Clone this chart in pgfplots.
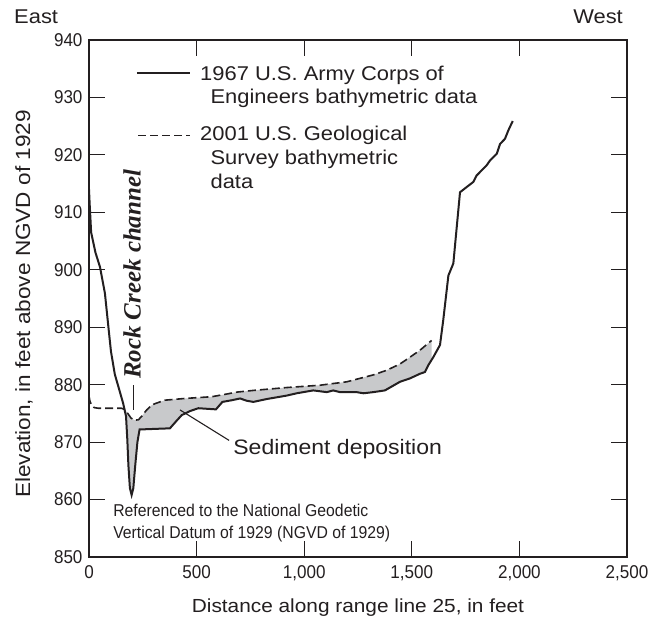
\documentclass[border=0pt]{standalone}
\usepackage{pgfplots}
\pgfplotsset{compat=1.18}
\usepgfplotslibrary{fillbetween}
\usepackage{fontspec}
\setmainfont{Liberation Sans}[FakeStretch=1.1]
\newfontfamily\condensed{Liberation Sans}[FakeStretch=0.92]
\newfontfamily\labelserif{Liberation Serif}

\definecolor{ink}{RGB}{35,31,32}
\definecolor{sediment}{RGB}{200,201,203}

% 1967 U.S. Army Corps of Engineers profile (distance, elevation)
\pgfplotstableread{
x y
0 914.0
3 911.5
10 906.5
30 903.0
51 900.5
74 895.9
90 890.1
102 885.8
120 881.8
140 879.2
159 876.7
172 874.5
178 870.5
183 866.0
190 862.0
198 860.8
206 862.0
215 866.0
225 870.0
235 872.2
376 872.4
409 873.8
431 874.7
469 875.4
508 875.9
590 875.7
620 877.0
665 877.3
702 877.6
733 877.2
764 877.0
826 877.5
919 878.1
965 878.5
1042 879.0
1105 878.7
1135 879.0
1166 878.7
1244 878.7
1275 878.5
1321 878.7
1375 879.0
1445 880.5
1492 881.1
1538 881.9
1561 882.2
1577 883.4
1600 884.8
1631 886.9
1646 891.2
1670 899.0
1693 901.1
1724 913.5
1755 914.4
1786 915.3
1801 916.4
1848 918.2
1863 919.0
1895 920.2
1910 921.9
1933 922.8
1949 924.3
1969 925.9
}\oldprofile

% 2001 U.S. Geological Survey profile (distance, elevation)
\pgfplotstableread{
x y
0 878.0
4 877.2
12 876.4
25 876.0
43 875.9
150 875.9
165 875.7
180 875.0
195 874.2
212 873.8
230 873.9
245 874.5
268 875.6
290 876.4
307 876.7
353 877.3
446 877.6
570 877.9
630 878.3
686 878.7
764 879.0
919 879.5
1073 879.9
1135 880.2
1198 880.5
1259 881.1
1321 881.7
1383 882.5
1445 883.6
1492 884.8
1538 886.0
1592 887.7
}\newprofile

\begin{document}
\begin{tikzpicture}
\begin{axis}[
  set layers,
  scale only axis,
  width=538bp, height=517bp,
  xmin=0, xmax=2500, ymin=850, ymax=940,
  xtick={0,500,...,2500},
  ytick={850,860,...,940},
  tick align=inside,
  major tick length=16bp,
  axis line style={line width=2bp, ink},
  every tick/.style={line width=1.1bp, ink},
  ticklabel style={font=\condensed\fontsize{18.6}{20}\selectfont, text=ink},
  /pgf/number format/assume math mode=true,
  /pgf/number format/1000 sep={,},
  xticklabel style={yshift=-5bp},
  yticklabel style={xshift=-3bp},
]
\addplot[name path=old, ink, line width=2bp] table {\oldprofile};
\addplot[name path=new, ink, line width=1.6bp, dash pattern=on 8bp off 4bp] table {\newprofile};
\addplot[sediment, on layer=pre main] fill between[of=new and old, soft clip={domain=165:1592}];

% key
\draw[ink, line width=2bp] (axis cs:223,934.2) -- (axis cs:469,934.2);
\node[anchor=base west, inner sep=0, text=ink, font=\fontsize{20}{24}\selectfont] at (axis cs:516,933.0) {1967 U.S. Army Corps of};
\node[anchor=base west, inner sep=0, text=ink, font=\fontsize{20}{24}\selectfont] at (axis cs:564,928.9) {Engineers bathymetric data};
\draw[ink, line width=1.6bp, dash pattern=on 8bp off 4bp] (axis cs:228,923.4) -- (axis cs:469,923.4);
\node[anchor=base west, inner sep=0, text=ink, font=\fontsize{20}{24}\selectfont] at (axis cs:516,922.5) {2001 U.S. Geological};
\node[anchor=base west, inner sep=0, text=ink, font=\fontsize{20}{24}\selectfont] at (axis cs:564,918.3) {Survey bathymetric};
\node[anchor=base west, inner sep=0, text=ink, font=\fontsize{20}{24}\selectfont] at (axis cs:564,914.1) {data};

% annotations
\node[rotate=90, inner sep=0, text=ink, font=\labelserif\bfseries\itshape\fontsize{25}{28}\selectfont] at (axis cs:200,899.2) {Rock Creek channel};
\draw[ink, line width=1.1bp] (axis cs:206,879.9) -- (axis cs:206,875.6);
\draw[ink, line width=1.1bp] (axis cs:423,875.6) -- (axis cs:651,870.3);
\node[anchor=base west, inner sep=0, text=ink, font=\fontsize{21}{24}\selectfont] at (axis cs:670,867.8) {Sediment deposition};
\node[anchor=base west, inner sep=0, text=ink, font=\condensed\fontsize{17.2}{20}\selectfont] at (axis cs:112,857.0) {Referenced to the National Geodetic};
\node[anchor=base west, inner sep=0, text=ink, font=\condensed\fontsize{17.2}{20}\selectfont] at (axis cs:112,853.2) {Vertical Datum of 1929 (NGVD of 1929)};
\end{axis}
\node[anchor=base west, inner sep=0, text=ink, font=\fontsize{20}{24}\selectfont] at (-75bp,533bp) {East};
\node[anchor=base east, inner sep=0, text=ink, font=\fontsize{20}{24}\selectfont] at (534bp,533bp) {West};
\node[rotate=90, inner sep=0, text=ink, font=\fontsize{20.6}{24}\selectfont] at (-65bp,253bp) {Elevation, in feet above NGVD of 1929};
\node[inner sep=0, text=ink, font=\fontsize{19}{22}\selectfont] at (269bp,-51bp) {Distance along range line 25, in feet};
\pgfresetboundingbox
\path[use as bounding box] (-89bp,-68bp) rectangle (561bp,557bp);
\end{tikzpicture}
\end{document}
